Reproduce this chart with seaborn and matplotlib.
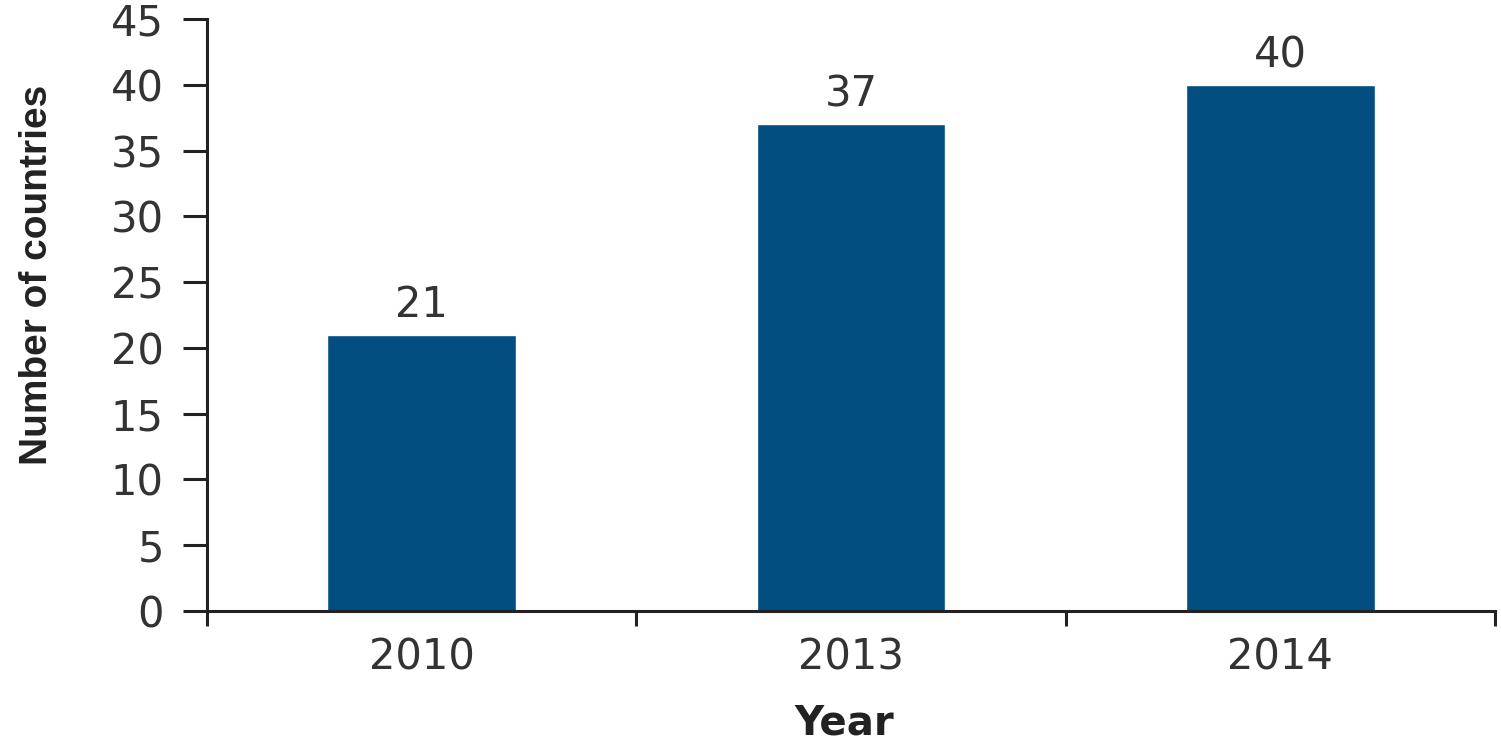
import pandas as pd
import seaborn as sns
import matplotlib.pyplot as plt
from matplotlib.ticker import FixedLocator

# Data
years = ['2010', '2013', '2014']
countries = [21, 37, 40]
y_ticks = [0, 5, 10, 15, 20, 25, 30, 35, 40, 45]

df = pd.DataFrame({'Year': years, 'Countries': countries})

sns.set_style('white')
plt.rcParams['font.family'] = ['DejaVu Sans']

fig = plt.figure(figsize=(15.01, 7.49), dpi=100)
ax = fig.add_axes([0.1379, 0.1842, 0.996 - 0.1379, 0.9746 - 0.1842])

sns.barplot(x='Year', y='Countries', data=df, color='#024e80', width=0.44,
            saturation=1, ax=ax)

# value labels above the bars
for cont in ax.containers:
    ax.bar_label(cont, padding=6, fontsize=30, color='#333333')

ax.set_ylim(0, 45)
ax.set_xlim(-0.5, 2.5)
ax.set_yticks(y_ticks)
ax.xaxis.set_minor_locator(FixedLocator([-0.5, 0.5, 1.5, 2.5]))

for side in ['top', 'right']:
    ax.spines[side].set_visible(False)
for side in ['left', 'bottom']:
    ax.spines[side].set_linewidth(2.2)
    ax.spines[side].set_color('#222222')

ax.tick_params(axis='y', which='major', length=17, width=2.2, color='#222222',
               pad=14, labelsize=30, labelcolor='#333333', left=True)
ax.tick_params(axis='x', which='major', length=0, pad=18, labelsize=30,
               labelcolor='#333333')
ax.tick_params(axis='x', which='minor', length=11, width=2.2, color='#222222',
               bottom=True)

ax.set_ylabel('Number of countries', fontsize=28, fontweight='bold',
              family=['Liberation Sans', 'DejaVu Sans'], color='#222222')
ax.yaxis.set_label_coords(-0.118, 0.567)
ax.set_xlabel('Year', fontsize=29, fontweight='bold', color='#222222')
ax.xaxis.set_label_coords(0.495, -0.156)

plt.savefig('out.png', dpi=100)
